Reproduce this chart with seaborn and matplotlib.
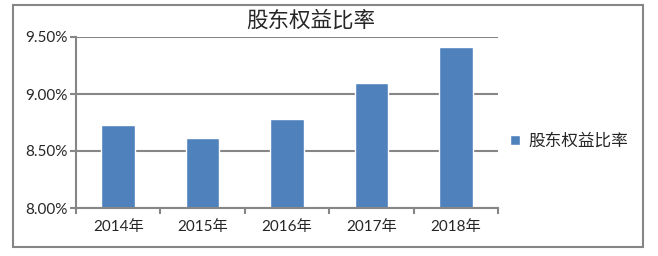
import matplotlib
matplotlib.use("Agg")
import matplotlib.pyplot as plt
import seaborn as sns
import pandas as pd
from matplotlib.patches import Rectangle
from matplotlib.ticker import FuncFormatter, FixedLocator

years = ["2014年", "2015年", "2016年", "2017年", "2018年"]
ratios = [8.73, 8.61, 8.78, 9.10, 9.41]
series_name = "股东权益比率"
y_ticks = [8.0, 8.5, 9.0, 9.5]

sns.set_theme(style="white")
plt.rcParams["font.family"] = ["Lato", "Noto Sans CJK SC", "DejaVu Sans"]

df = pd.DataFrame({"year": years, "ratio": ratios})

fig = plt.figure(figsize=(6.58, 2.56), dpi=100)
ax = fig.add_axes([76/658, 1-208/256, (498-76)/658, (208-37)/256])

bar_color = "#4F81BD"
sns.barplot(data=df, x="year", y="ratio", color=bar_color, width=0.4,
            ax=ax, label=series_name, saturation=1)

ax.set_ylim(8.0, 9.5)
ax.set_xlim(-0.5, len(years) - 0.5)
ax.set_yticks(y_ticks)
ax.yaxis.set_major_formatter(FuncFormatter(lambda v, p: f"{v:.2f}%"))
ax.grid(axis="y", color="#868686", linewidth=1.5)
ax.set_axisbelow(True)
ax.set_xlabel("")
ax.set_ylabel("")

for s in ["top", "right"]:
    ax.spines[s].set_visible(False)
for s in ["left", "bottom"]:
    ax.spines[s].set_color("#868686")
    ax.spines[s].set_linewidth(1.5)

ax.tick_params(axis="y", which="major", length=4, width=1.5, color="#868686",
               labelsize=11, pad=2, left=True)
ax.tick_params(axis="x", which="major", length=0, labelsize=11, pad=9)
ax.xaxis.set_minor_locator(FixedLocator([i + 0.5 for i in range(-1, len(years))]))
ax.tick_params(axis="x", which="minor", length=4, width=1.5, color="#868686",
               bottom=True)

fig.text(311/658, 1-20/256, series_name, ha="center", va="center", fontsize=15.5)

leg = ax.legend(loc="center left", bbox_to_anchor=(510/658, 1-141/256),
                bbox_transform=fig.transFigure, frameon=False, fontsize=12,
                handlelength=0.6, handleheight=0.6, handletextpad=0.5,
                borderaxespad=0, borderpad=0)

fig.patches.append(Rectangle((13/658, 1-247/256), (643-13)/658, (247-5)/256,
                             transform=fig.transFigure, fill=False,
                             edgecolor="#868686", linewidth=1.5))

fig.savefig("out.png", dpi=100)
